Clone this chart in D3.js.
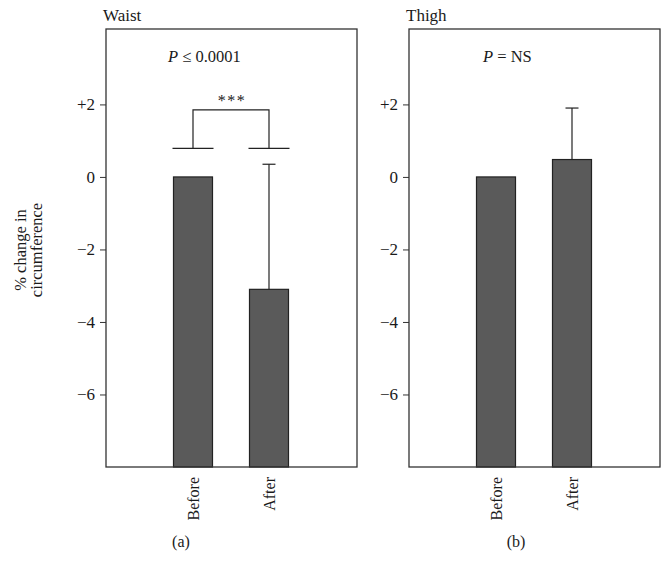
<!DOCTYPE html>
<html>
<head>
<meta charset="utf-8">
<script src="https://cdn.jsdelivr.net/npm/d3@7"></script>
<style>
  body { margin: 0; background: #fff; }
  svg text { font-family: "Liberation Serif", "DejaVu Serif", serif; fill: #1a1a1a; }
</style>
</head>
<body>
<div id="graph"></div>
<script>
// data
const groups = ['Before', 'After'];
const waistMeans = [0, -3.1];
const waistSd = [0, 3.45];
const thighMeans = [0, 0.48];
const thighSd = [0, 1.42];
const tickValues = [2, 0, -2, -4, -6];
const tickLabels = ['+2', '0', '\u22122', '\u22124', '\u22126'];
const bracketLow = 0.79;
const bracketHigh = 1.85;

const width = 671;
const height = 575;
const plotTop = 29, plotBottom = 467;
const panelW = 251;

const svg = d3.select('#graph')
  .append('svg')
  .attr('width', width)
  .attr('height', height);

const yScale = d3.scaleLinear().domain([-8, 4.08]).range([plotBottom, plotTop]);

const panels = [
  { x0: 106, title: 'Waist', means: waistMeans, sd: waistSd, letter: '(a)', letterX: 181, pX: 168, bracket: true },
  { x0: 409, title: 'Thigh', means: thighMeans, sd: thighSd, letter: '(b)', letterX: 516, pX: 483, bracket: false }
];

panels.forEach(p => {
  const g = svg.append('g');
  const xScale = d3.scalePoint().domain(groups).range([p.x0 + 87, p.x0 + 163]);
  const barW = 39;

  // bars (drawn from the floor of the axis up to the mean)
  g.selectAll('rect.bar')
    .data(groups)
    .enter()
    .append('rect')
    .attr('class', 'bar')
    .attr('x', d => xScale(d) - barW / 2)
    .attr('y', (d, i) => yScale(p.means[i]))
    .attr('width', barW)
    .attr('height', (d, i) => yScale(-8) - yScale(p.means[i]))
    .attr('fill', '#5a5a5a')
    .attr('stroke', '#222')
    .attr('stroke-width', 1.2);

  // error bars (upper)
  groups.forEach((d, i) => {
    if (!p.sd[i]) return;
    const cx = xScale(d);
    g.append('line')
      .attr('x1', cx).attr('x2', cx)
      .attr('y1', yScale(p.means[i])).attr('y2', yScale(p.means[i] + p.sd[i]))
      .attr('stroke', '#222').attr('stroke-width', 1.2);
    g.append('line')
      .attr('x1', cx - 6.5).attr('x2', cx + 6.5)
      .attr('y1', yScale(p.means[i] + p.sd[i])).attr('y2', yScale(p.means[i] + p.sd[i]))
      .attr('stroke', '#222').attr('stroke-width', 1.2);
  });

  // significance bracket
  if (p.bracket) {
    groups.forEach(d => {
      g.append('line')
        .attr('x1', xScale(d) - barW / 2 - 1).attr('x2', xScale(d) + barW / 2 + 1)
        .attr('y1', yScale(bracketLow)).attr('y2', yScale(bracketLow))
        .attr('stroke', '#222').attr('stroke-width', 1.2);
    });
    const path = d3.path();
    path.moveTo(xScale('Before'), yScale(bracketLow));
    path.lineTo(xScale('Before'), yScale(bracketHigh));
    path.lineTo(xScale('After'), yScale(bracketHigh));
    path.lineTo(xScale('After'), yScale(bracketLow));
    g.append('path').attr('d', path.toString())
      .attr('fill', 'none').attr('stroke', '#222').attr('stroke-width', 1.2);
    g.append('text')
      .attr('x', (xScale('Before') + xScale('After')) / 2 + 1)
      .attr('y', yScale(bracketHigh) - 4)
      .attr('text-anchor', 'middle')
      .attr('font-size', 16)
      .attr('letter-spacing', 1.5)
      .text('***');
  }

  // frame
  g.append('rect')
    .attr('x', p.x0).attr('y', plotTop)
    .attr('width', panelW).attr('height', plotBottom - plotTop)
    .attr('fill', 'none').attr('stroke', '#333').attr('stroke-width', 1.3);

  // y axis
  const yAxis = d3.axisLeft(yScale)
    .tickValues(tickValues)
    .tickFormat((d, i) => tickLabels[i])
    .tickSize(6)
    .tickPadding(5);
  const ax = g.append('g')
    .attr('transform', 'translate(' + p.x0 + ',0)')
    .call(yAxis);
  ax.select('.domain').remove();
  ax.selectAll('line').attr('stroke', '#333');
  ax.selectAll('text').attr('font-size', 17).attr('font-family', '"Liberation Serif", serif').attr('fill', '#1a1a1a');

  // x labels
  groups.forEach(d => {
    g.append('text')
      .attr('transform', 'translate(' + xScale(d) + ',477) rotate(-90)')
      .attr('text-anchor', 'end')
      .attr('dy', '0.35em')
      .attr('font-size', 16)
      .text(d);
  });

  // titles
  g.append('text').attr('x', p.x0 - 3).attr('y', 21).attr('font-size', 17).text(p.title);

  const pt = g.append('text').attr('x', p.pX).attr('y', 62).attr('font-size', 16.5);
  pt.append('tspan').attr('font-style', 'italic').text('P');
  pt.append('tspan').text(p.bracket ? ' \u2264 0.0001' : ' = NS');

  g.append('text').attr('x', p.letterX).attr('y', 547)
    .attr('text-anchor', 'middle').attr('font-size', 16).text(p.letter);
});

// y label
svg.append('text')
  .attr('transform', 'translate(26,250) rotate(-90)')
  .attr('text-anchor', 'middle').attr('font-size', 16.5)
  .text('% change in');
svg.append('text')
  .attr('transform', 'translate(42,250) rotate(-90)')
  .attr('text-anchor', 'middle').attr('font-size', 16.5)
  .text('circumference');
</script>
</body>
</html>
